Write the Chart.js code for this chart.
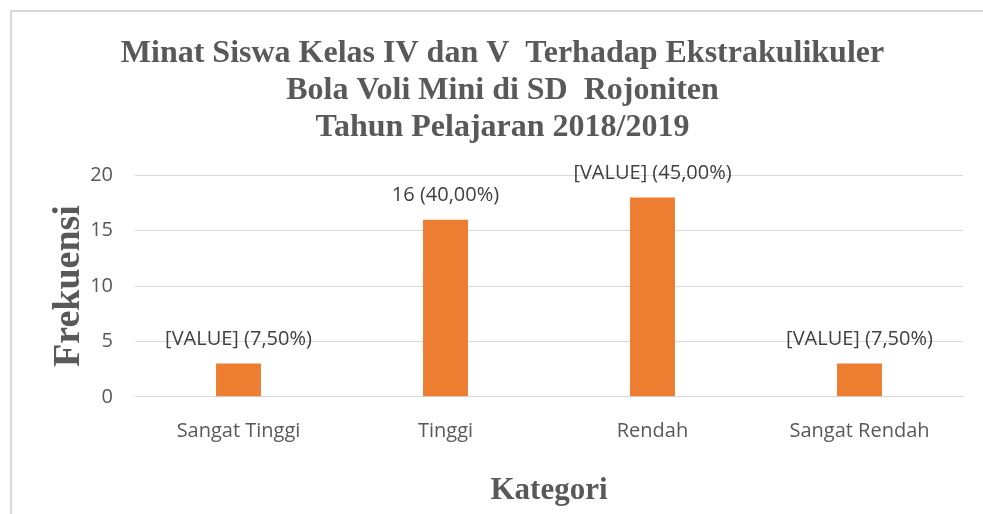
<!DOCTYPE html>
<html>
<head>
<meta charset="utf-8">
<script src="https://cdn.jsdelivr.net/npm/chart.js@4.4.0/dist/chart.umd.min.js"></script>
<style>
  html, body { margin: 0; padding: 0; background: #fff; }
  #wrap {
    position: absolute; left: 10px; top: 10px;
    width: 971px; height: 502px;
    border-left: 2px solid #d9d9d9; border-top: 2px solid #d9d9d9;
  }
</style>
</head>
<body>
<div id="wrap"><canvas id="canvas"></canvas></div>
<script>
// data
var categories = ['Sangat Tinggi', 'Tinggi', 'Rendah', 'Sangat Rendah'];
var frekuensi = [3, 16, 18, 3];
var barLabels = ['[VALUE] (7,50%)', '16 (40,00%)', '[VALUE] (45,00%)', '[VALUE] (7,50%)'];
var titleLines = [
  'Minat Siswa Kelas IV dan V  Terhadap Ekstrakulikuler',
  'Bola Voli Mini di SD  Rojoniten',
  'Tahun Pelajaran 2018/2019'
];

var tickFont = { family: '"Open Sans", "Liberation Sans", sans-serif', size: 20 };
var serif = '"Liberation Serif", "DejaVu Serif", serif';

// draws the text above each bar
var barLabelPlugin = {
  id: 'barLabels',
  afterDatasetsDraw: function (chart) {
    var c = chart.ctx;
    var meta = chart.getDatasetMeta(0);
    c.save();
    c.font = tickFont.size + 'px ' + tickFont.family;
    c.fillStyle = '#404040';
    c.textAlign = 'center';
    c.textBaseline = 'middle';
    meta.data.forEach(function (bar, i) {
      c.fillText(barLabels[i], bar.x, bar.y - 24);
    });
    c.restore();
  }
};

const ctx = document.getElementById('canvas');
new Chart(ctx, {
  type: 'bar',
  data: {
    labels: categories,
    datasets: [
      {
        label: 'Frekuensi',
        data: frekuensi,
        backgroundColor: '#ed7d31',
        borderWidth: 0,
        barPercentage: 0.217,
        categoryPercentage: 1,
      },
    ],
  },
  plugins: [barLabelPlugin],
  options: {
    responsive: true,
    maintainAspectRatio: false,
    animation: false,
    layout: { padding: { left: 30, right: 20, top: 0, bottom: 0 } },
    plugins: {
      legend: { display: false },
      tooltip: { enabled: false },
      title: {
        display: true,
        text: titleLines,
        color: '#595959',
        font: { family: serif, size: 32, weight: 'bold', lineHeight: 1.16 },
        padding: { top: 23, bottom: 29 },
      },
    },
    scales: {
      x: {
        grid: { display: false },
        border: { color: '#d9d9d9' },
        ticks: { color: '#595959', font: tickFont, padding: 14 },
        title: {
          display: true,
          text: 'Kategori',
          color: '#595959',
          font: { family: serif, size: 31, weight: 'bold' },
          padding: { top: 16 },
        },
      },
      y: {
        min: 0,
        max: 20,
        grid: { color: '#d9d9d9', drawTicks: false },
        border: { display: false },
        ticks: { stepSize: 5, color: '#595959', font: tickFont, padding: 22 },
        title: {
          display: true,
          text: 'Frekuensi',
          color: '#595959',
          font: { family: serif, size: 38, weight: 'bold' },
          padding: { bottom: 4 },
        },
        afterFit: function (scale) {
          scale.width = 93;
        },
      },
    },
  },
});
</script>
</body>
</html>
